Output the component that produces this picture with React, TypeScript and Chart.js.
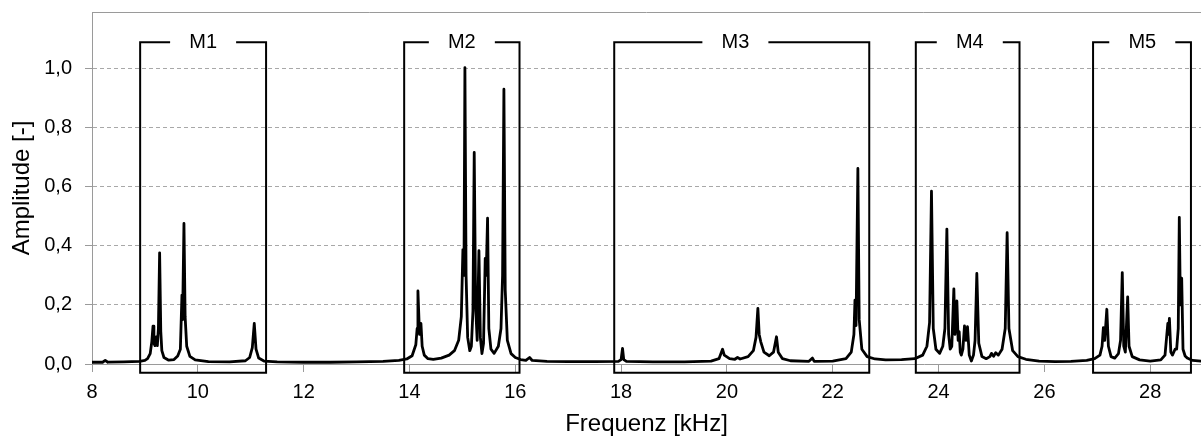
import React, { useEffect, useRef } from "react";
import { Chart, registerables } from "chart.js";

Chart.register(...registerables);

// ---------- data ----------
const xTicks = [8, 10, 12, 14, 16, 18, 20, 22, 24, 26, 28];
const yTicks = [0, 0.2, 0.4, 0.6, 0.8, 1.0];
const yTickLabels = ["0,0", "0,2", "0,4", "0,6", "0,8", "1,0"];

const bandLabels = ["M1", "M2", "M3", "M4", "M5"];
const bandStart = [8.91, 13.9, 17.87, 23.57, 26.92];
const bandEnd = [11.29, 16.08, 22.69, 25.53, 28.77];
const bandLabelAt = [10.1, 14.99, 20.16, 24.59, 27.85];
const bandTop = 1.088;
const bandBottom = -0.03;

type P = [number, number];

const specStart: P[] = [
  [8.0, 0.006], [8.2, 0.006], [8.25, 0.012], [8.3, 0.006], [8.6, 0.007], [8.9, 0.009],
];
const specM1: P[] = [
  [9.0, 0.012], [9.05, 0.018], [9.1, 0.035], [9.13, 0.075], [9.153, 0.128], [9.17, 0.07],
  [9.19, 0.062], [9.215, 0.092], [9.235, 0.062], [9.255, 0.12], [9.278, 0.376], [9.3, 0.11],
  [9.32, 0.045], [9.36, 0.022], [9.45, 0.013], [9.55, 0.015], [9.62, 0.027], [9.67, 0.05],
  [9.7, 0.233], [9.712, 0.15], [9.738, 0.475], [9.76, 0.16], [9.79, 0.06], [9.85, 0.026],
  [9.95, 0.014], [10.2, 0.008], [10.6, 0.007], [10.9, 0.011], [10.98, 0.022], [11.03, 0.055],
  [11.067, 0.137], [11.1, 0.05], [11.15, 0.02], [11.25, 0.01],
];
const specGap12: P[] = [
  [11.5, 0.007], [12.0, 0.006], [12.5, 0.006], [13.0, 0.007], [13.5, 0.009], [13.8, 0.012],
];
const specM2: P[] = [
  [13.95, 0.017], [14.05, 0.028], [14.12, 0.065], [14.145, 0.12], [14.16, 0.247], [14.19, 0.1],
  [14.217, 0.137], [14.24, 0.06], [14.28, 0.03], [14.35, 0.018], [14.45, 0.016], [14.6, 0.02],
  [14.75, 0.03], [14.85, 0.045], [14.93, 0.08], [14.98, 0.16], [15.01, 0.387], [15.03, 0.3],
  [15.048, 1.002], [15.07, 0.3], [15.1, 0.09], [15.14, 0.045], [15.17, 0.06], [15.2, 0.18],
  [15.224, 0.715], [15.25, 0.2], [15.28, 0.08], [15.313, 0.383], [15.34, 0.09], [15.37, 0.035],
  [15.4, 0.07], [15.432, 0.357], [15.45, 0.3], [15.476, 0.493], [15.5, 0.12], [15.54, 0.05],
  [15.6, 0.036], [15.68, 0.06], [15.73, 0.12], [15.76, 0.3], [15.785, 0.929], [15.81, 0.25],
  [15.85, 0.08], [15.92, 0.035], [16.0, 0.022], [16.1, 0.015],
];
const specGap23: P[] = [
  [16.2, 0.012], [16.27, 0.022], [16.32, 0.012], [16.6, 0.009], [17.0, 0.008], [17.5, 0.008],
];
const specM3: P[] = [
  [17.95, 0.009], [18.0, 0.015], [18.027, 0.053], [18.05, 0.015], [18.1, 0.009], [18.6, 0.007],
  [19.2, 0.007], [19.7, 0.01], [19.85, 0.018], [19.917, 0.05], [19.95, 0.03], [20.05, 0.018],
  [20.15, 0.016], [20.2, 0.022], [20.25, 0.017], [20.4, 0.025], [20.5, 0.045], [20.55, 0.09],
  [20.585, 0.188], [20.61, 0.1], [20.64, 0.075], [20.7, 0.04], [20.8, 0.028], [20.88, 0.04],
  [20.937, 0.092], [20.97, 0.04], [21.05, 0.018], [21.2, 0.011], [21.55, 0.009], [21.617, 0.02],
  [21.65, 0.009], [22.0, 0.01], [22.25, 0.018], [22.35, 0.04], [22.4, 0.1], [22.42, 0.216],
  [22.44, 0.13], [22.475, 0.661], [22.5, 0.15], [22.55, 0.05], [22.65, 0.025],
];
const specGap34: P[] = [
  [22.8, 0.017], [23.0, 0.014], [23.3, 0.015],
];
const specM4: P[] = [
  [23.55, 0.018], [23.7, 0.03], [23.78, 0.06], [23.83, 0.14], [23.866, 0.584], [23.9, 0.12],
  [23.95, 0.05], [24.02, 0.036], [24.08, 0.06], [24.12, 0.12], [24.157, 0.456], [24.19, 0.1],
  [24.22, 0.05], [24.25, 0.06], [24.289, 0.254], [24.31, 0.1], [24.346, 0.213], [24.37, 0.08],
  [24.39, 0.109], [24.41, 0.04], [24.43, 0.03], [24.46, 0.05], [24.49, 0.129], [24.52, 0.08],
  [24.547, 0.126], [24.58, 0.03], [24.62, 0.01], [24.66, 0.03], [24.69, 0.08], [24.723, 0.306],
  [24.76, 0.07], [24.82, 0.025], [24.9, 0.018], [24.97, 0.025], [25.0, 0.036], [25.04, 0.026],
  [25.08, 0.038], [25.13, 0.03], [25.2, 0.05], [25.26, 0.12], [25.296, 0.444], [25.33, 0.12],
  [25.4, 0.045], [25.5, 0.025],
];
const specGap45: P[] = [
  [25.65, 0.016], [25.9, 0.01], [26.2, 0.008], [26.5, 0.009], [26.8, 0.012],
];
const specM5: P[] = [
  [26.95, 0.018], [27.05, 0.03], [27.09, 0.06], [27.115, 0.123], [27.14, 0.08], [27.18, 0.185],
  [27.21, 0.06], [27.26, 0.025], [27.33, 0.02], [27.4, 0.035], [27.44, 0.08], [27.472, 0.309],
  [27.5, 0.06], [27.53, 0.04], [27.574, 0.227], [27.6, 0.06], [27.66, 0.025], [27.8, 0.014],
  [28.0, 0.01], [28.2, 0.014], [28.28, 0.03], [28.333, 0.137], [28.345, 0.1], [28.363, 0.154],
  [28.39, 0.04], [28.42, 0.03], [28.47, 0.05], [28.5, 0.05], [28.53, 0.12], [28.55, 0.496],
  [28.57, 0.2], [28.595, 0.29], [28.62, 0.05], [28.66, 0.027], [28.7, 0.02], [28.8, 0.012],
  [28.96, 0.01],
];

const spectrum: P[] = [
  ...specStart, ...specM1, ...specGap12, ...specM2, ...specGap23,
  ...specM3, ...specGap34, ...specM4, ...specGap45, ...specM5,
];

// ---------- styling ----------
const FONT = "'Liberation Sans', Arial, sans-serif";
const GRID = "#a8a8a8";
const AXIS = "#9a9a9a";

const bandsPlugin = {
  id: "bands",
  afterDraw(chart: any) {
    const { ctx, chartArea, scales } = chart;
    const x = scales.x;
    const y = scales.y;
    ctx.save();
    // top frame line
    ctx.strokeStyle = AXIS;
    ctx.lineWidth = 1;
    ctx.beginPath();
    const ty = Math.round(chartArea.top) + 0.5;
    ctx.moveTo(chartArea.left, ty);
    ctx.lineTo(chartArea.right, ty);
    ctx.stroke();

    // boxes
    ctx.strokeStyle = "#000";
    ctx.lineWidth = 2;
    ctx.fillStyle = "#000";
    ctx.font = `20px ${FONT}`;
    ctx.textAlign = "center";
    ctx.textBaseline = "middle";
    const gap = 33;
    bandLabels.forEach((lab, i) => {
      const l = x.getPixelForValue(bandStart[i]);
      const r = x.getPixelForValue(bandEnd[i]);
      const t = y.getPixelForValue(bandTop);
      const b = y.getPixelForValue(bandBottom);
      const c = x.getPixelForValue(bandLabelAt[i]);
      ctx.beginPath();
      ctx.moveTo(c - gap, t);
      ctx.lineTo(l, t);
      ctx.lineTo(l, b);
      ctx.lineTo(r, b);
      ctx.lineTo(r, t);
      ctx.lineTo(c + gap, t);
      ctx.stroke();
      ctx.fillText(lab, c, t);
    });
    ctx.restore();
  },
};

export default function App() {
  const ref = useRef<HTMLCanvasElement | null>(null);

  useEffect(() => {
    if (!ref.current) return;
    const chart = new Chart(ref.current, {
      type: "line",
      data: {
        datasets: [
          {
            data: spectrum.map(([fx, fy]) => ({ x: fx, y: fy })),
            borderColor: "#000",
            borderWidth: 2.8,
            pointRadius: 0,
            tension: 0,
            borderJoinStyle: "round",
            borderCapStyle: "round",
            fill: false,
          },
        ],
      },
      options: {
        animation: false,
        responsive: false,
        events: [],
        layout: { padding: { top: 12, left: 0, right: 0, bottom: 0 } },
        plugins: {
          legend: { display: false },
          tooltip: { enabled: false },
        },
        scales: {
          x: {
            type: "linear",
            min: 8,
            max: 28.96,
            afterBuildTicks: (s: any) => {
              s.ticks = xTicks.map((v) => ({ value: v }));
            },
            afterFit: (s: any) => {
              s.height = 81;
              s.paddingLeft = 0;
              s.paddingRight = 0;
            },
            grid: {
              display: true,
              drawOnChartArea: false,
              tickLength: 8,
              color: AXIS,
              tickColor: AXIS,
            },
            border: { display: true, color: AXIS, width: 1 },
            ticks: {
              color: "#000",
              font: { family: FONT, size: 20 },
              padding: 8,
              maxRotation: 0,
              autoSkip: false,
              callback: (v: any) => String(v),
            },
            title: {
              display: true,
              text: "Frequenz [kHz]",
              color: "#000",
              font: { family: FONT, size: 24 },
              padding: { top: 0, bottom: 6 },
            },
          },
          y: {
            type: "linear",
            min: 0,
            max: 1.19,
            afterBuildTicks: (s: any) => {
              s.ticks = yTicks.map((v) => ({ value: v }));
            },
            afterFit: (s: any) => {
              s.width = 92;
              s.paddingTop = 0;
              s.paddingBottom = 0;
            },
            grid: {
              display: true,
              drawOnChartArea: true,
              tickLength: 7,
              color: GRID,
              tickColor: AXIS,
              tickBorderDash: [],
            },
            border: { display: true, color: AXIS, width: 1, dash: [4, 3] },
            ticks: {
              color: "#000",
              font: { family: FONT, size: 20 },
              padding: 13,
              autoSkip: false,
              callback: (v: any) => {
                const idx = yTicks.findIndex((t) => Math.abs(t - v) < 1e-9);
                return idx >= 0 ? yTickLabels[idx] : "";
              },
            },
            title: {
              display: true,
              text: "Amplitude [-]",
              color: "#000",
              font: { family: FONT, size: 24 },
              padding: { top: 8, bottom: 0 },
            },
          },
        },
      },
      plugins: [bandsPlugin],
    } as any);
    return () => chart.destroy();
  }, []);

  return (
    <div
      style={{
        position: "fixed",
        left: 0,
        top: 0,
        width: 1201,
        height: 437,
        overflow: "hidden",
        background: "#fff",
      }}
    >
      <canvas ref={ref} width={1201} height={445} style={{ display: "block" }} />
    </div>
  );
}
